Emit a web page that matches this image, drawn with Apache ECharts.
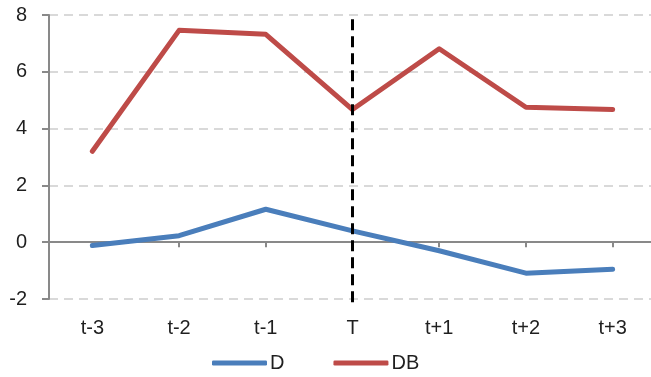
<!DOCTYPE html>
<html>
<head>
<meta charset="utf-8">
<script src="https://cdn.jsdelivr.net/npm/echarts@6/dist/echarts.min.js"></script>
<style>
  html, body { margin: 0; padding: 0; background: #fff; }
  #chart { width: 651px; height: 377px; }
</style>
</head>
<body>
<div id="chart"></div>
<script>
// Event window categories
const categories = ['t-3', 't-2', 't-1', 'T', 't+1', 't+2', 't+3'];
// Series values
const seriesD = [-0.12, 0.23, 1.16, 0.40, -0.30, -1.09, -0.95];
const seriesDB = [3.20, 7.46, 7.32, 4.67, 6.81, 4.75, 4.67];
// Event marker: category and vertical span (in y units)
const eventMarker = ['T', 7.85, -2.3];
// Y axis ticks
const yMin = -2, yMax = 8, yStep = 2;

const FONT = '"Liberation Sans", Arial, Helvetica, sans-serif';
const TEXT = '#1f1f1f';

const chart = echarts.init(document.getElementById('chart'), null, { renderer: 'canvas' });

chart.setOption({
  animation: false,
  backgroundColor: '#ffffff',
  textStyle: { fontFamily: FONT },
  grid: {
    left: 49, top: 15, width: 607, height: 284,
    containLabel: false,
    outerBoundsMode: 'none'
  },
  legend: {
    data: ['D', 'DB'],
    left: 212,
    top: 353,
    padding: 0,
    icon: 'roundRect',
    itemWidth: 55,
    itemHeight: 5,
    itemGap: 49,
    textStyle: { fontFamily: FONT, fontSize: 20, color: TEXT, padding: [0, 0, 0, -2] }
  },
  xAxis: [
    {
      type: 'category',
      data: categories,
      position: 'bottom',
      axisLine: { show: false, onZero: false },
      axisTick: { show: false },
      axisLabel: { fontFamily: FONT, fontSize: 20, color: TEXT, margin: 19 },
      splitLine: { show: false }
    },
    {
      type: 'category',
      data: categories,
      position: 'top',
      axisLine: { show: true, onZero: true, lineStyle: { color: '#898989', width: 2 } },
      axisTick: { show: true, alignWithLabel: true, inside: true, length: 5, lineStyle: { color: '#898989', width: 2 } },
      axisLabel: { show: false },
      splitLine: { show: false }
    }
  ],
  yAxis: {
    type: 'value',
    min: yMin,
    max: yMax,
    interval: yStep,
    axisLine: { show: true, onZero: false, lineStyle: { color: '#898989', width: 2 } },
    axisTick: { show: true, length: 7, lineStyle: { color: '#898989', width: 2 } },
    axisLabel: { fontFamily: FONT, fontSize: 20, color: TEXT, margin: 22 },
    splitLine: { show: true, lineStyle: { color: '#d9d9d9', width: 2, type: [9, 6] } }
  },
  series: [
    {
      name: 'D',
      type: 'line',
      data: seriesD,
      symbol: 'none',
      color: '#4a7ebb',
      lineStyle: { width: 5, color: '#4a7ebb', cap: 'round', join: 'round' },
      z: 3
    },
    {
      name: 'DB',
      type: 'line',
      data: seriesDB,
      symbol: 'none',
      color: '#be4b48',
      lineStyle: { width: 5, color: '#be4b48', cap: 'round', join: 'round' },
      z: 3
    },
    {
      name: 'event',
      type: 'custom',
      data: [eventMarker],
      clip: false,
      z: 5,
      renderItem: function (params, api) {
        const top = api.coord([api.value(0), api.value(1)]);
        const bot = api.coord([api.value(0), api.value(2)]);
        return {
          type: 'line',
          shape: { x1: top[0], y1: top[1], x2: bot[0], y2: bot[1] },
          style: { stroke: '#000000', lineWidth: 3, lineDash: [11, 6] }
        };
      }
    }
  ]
});
</script>
</body>
</html>
